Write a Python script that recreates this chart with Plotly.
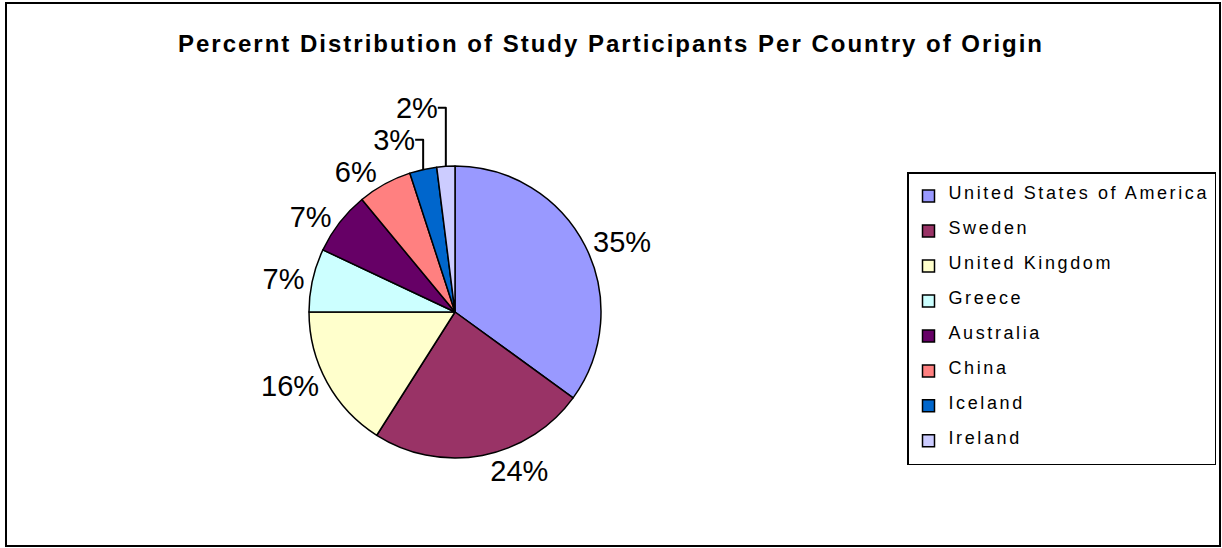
import plotly.graph_objects as go

countries = ["United States of America", "Sweden", "United Kingdom", "Greece",
             "Australia", "China", "Iceland", "Ireland"]
percents = [35, 24, 16, 7, 7, 6, 3, 2]
colors = ["#9999FF", "#993366", "#FFFFCC", "#CCFFFF", "#660066", "#FF8080", "#0066CC", "#CCCCFF"]

W, H = 1222, 548
cx, cy, r = 455, 312, 146

legend_labels = ['<br><span style="font-size:18px;letter-spacing:2.6px">%s</span><br>' % c for c in countries]

fig = go.Figure(go.Pie(
    labels=legend_labels,
    values=percents,
    marker=dict(colors=colors, line=dict(color="black", width=1.5)),
    sort=False,
    direction="clockwise",
    rotation=0,
    textposition="outside",
    texttemplate="%{value}%",
    textfont=dict(family="Liberation Sans, Arial", size=29, color="black"),
    domain=dict(x=[(cx - r) / W, (cx + r) / W], y=[1 - (cy + r) / H, 1 - (cy - r) / H]),
    hoverinfo="skip",
))

fig.update_layout(
    width=W, height=H,
    margin=dict(l=0, r=0, t=0, b=0),
    paper_bgcolor="white",
    title=dict(text='<b><span style="letter-spacing:2px">Percernt Distribution of Study Participants Per Country of Origin</span></b>',
               x=0.5, xanchor="center", y=1 - 44 / H, yanchor="middle",
               font=dict(family="Liberation Sans, Arial", size=24, color="black")),
    legend=dict(x=907 / W, xanchor="left", y=1 - 172 / H, yanchor="top",
                bordercolor="black", borderwidth=1.5, bgcolor="white",
                font=dict(family="Liberation Sans, Arial", size=8.2, color="black"),
                traceorder="normal"),
    showlegend=True,
    shapes=[dict(type="rect", xref="paper", yref="paper",
                 x0=6 / W, x1=1220 / W, y0=1 - 546 / H, y1=1 - 3 / H,
                 line=dict(color="black", width=2))],
)

fig.write_html("out.html", config={"displayModeBar": False},
               post_script="document.body.style.margin='0';document.body.style.overflow='hidden';")
